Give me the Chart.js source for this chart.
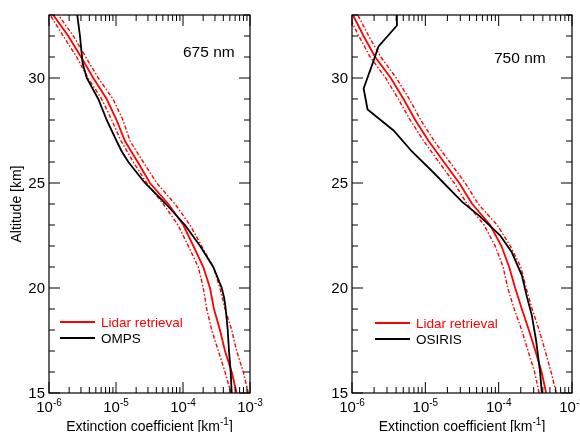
<!DOCTYPE html>
<html>
<head>
<meta charset="utf-8">
<script src="https://cdn.jsdelivr.net/npm/chart.js@4/dist/chart.umd.min.js"></script>
<style>
  body { margin: 0; background: #fff; }
  .wrap { display: flex; width: 580px; height: 432px; }
  canvas { display: block; }
</style>
</head>
<body>
<div class="wrap">
  <canvas id="left" width="290" height="432"></canvas>
  <canvas id="right" width="290" height="432"></canvas>
</div>
<script>
// altitude grid of the lidar profiles [km]
const altitudes = [15, 16, 17, 18, 19, 20, 21, 22, 23, 24, 25, 26, 27, 28, 29, 30, 31, 32, 33];

// 675 nm, extinction [km^-1]
const lidar675 = [6.32e-4, 5.33e-4, 4.24e-4, 3.56e-4, 2.90e-4, 2.53e-4, 2.01e-4, 1.43e-4, 1.01e-4, 6.04e-5,
  3.21e-5, 2.11e-5, 1.36e-5, 1.02e-5, 7.26e-6, 4.58e-6, 3.01e-6, 1.94e-6, 1.16e-6];
const lidar675Low = [5.20e-4, 4.24e-4, 3.37e-4, 2.68e-4, 2.26e-4, 2.01e-4, 1.69e-4, 1.20e-4, 8.41e-5, 5.08e-5,
  2.87e-5, 1.81e-5, 1.19e-5, 8.63e-6, 6.12e-6, 3.82e-6, 2.59e-6, 1.63e-6, 1.04e-6];
const lidar675High = [9.44e-4, 7.94e-4, 6.32e-4, 5.33e-4, 4.24e-4, 3.56e-4, 2.83e-4, 1.90e-4, 1.27e-4, 7.60e-5,
  4.05e-5, 2.55e-5, 1.62e-5, 1.27e-5, 9.02e-6, 5.44e-6, 3.53e-6, 2.31e-6, 1.38e-6];
const ompsAltitudes = [15, 16, 17, 18, 19, 19.5, 20, 21, 22, 23, 24, 25, 26, 26.5, 27, 28, 29, 30, 30.7, 32, 33];
const omps675 = [5.33e-4, 5.15e-4, 4.86e-4, 4.65e-4, 4.34e-4, 4.13e-4, 3.79e-4, 2.83e-4, 1.80e-4, 1.07e-4, 5.57e-5,
  2.71e-5, 1.53e-5, 1.22e-5, 1.02e-5, 7.26e-6, 5.44e-6, 3.66e-6, 3.18e-6, 2.90e-6, 2.64e-6];

// 750 nm
const lidar750 = [4.44e-4, 3.85e-4, 3.17e-4, 2.58e-4, 2.07e-4, 1.68e-4, 1.39e-4, 1.09e-4, 7.65e-5, 4.36e-5,
  2.90e-5, 1.79e-5, 1.11e-5, 7.28e-6, 5.04e-6, 3.38e-6, 2.07e-6, 1.44e-6, 1.03e-6];
const lidar750Low = [3.56e-4, 3.09e-4, 2.52e-4, 2.06e-4, 1.63e-4, 1.33e-4, 1.15e-4, 8.95e-5, 6.34e-5, 3.72e-5,
  2.48e-5, 1.53e-5, 9.50e-6, 6.22e-6, 4.28e-6, 2.88e-6, 1.77e-6, 1.24e-6, 8.9e-7];
const lidar750High = [6.07e-4, 5.19e-4, 4.31e-4, 3.56e-4, 2.86e-4, 2.37e-4, 2.00e-4, 1.44e-4, 9.55e-5, 5.26e-5,
  3.50e-5, 2.15e-5, 1.32e-5, 8.65e-6, 6.04e-6, 4.02e-6, 2.47e-6, 1.69e-6, 1.20e-6];
const osirisAltitudes = [15, 16, 17.5, 18.7, 19.6, 20.6, 21.7, 22.5, 23.4, 24.1, 25.5, 26.5, 27.5, 28.5, 29.5,
  30.6, 31.5, 32.5, 33];
const osiris750 = [3.88e-4, 3.67e-4, 3.24e-4, 2.83e-4, 2.42e-4, 2.07e-4, 1.51e-4, 1.05e-4, 5.60e-5, 3.18e-5,
  1.29e-5, 6.56e-6, 3.69e-6, 1.63e-6, 1.44e-6, 1.87e-6, 2.30e-6, 4.10e-6, 4.10e-6];

// axis ticks
const yMajorTicks = [15, 20, 25, 30];
const xDecades = [-6, -5, -4, -3];

const FONT = '"Liberation Sans", Arial, Helvetica, sans-serif';
const RED = "#ff0000";

function pairs(ys, xs) {
  return xs.map((v, i) => ({ x: v, y: ys[i] }));
}

// text with a raised exponent in the middle
function supText(ctx, base, sup, tail, x, y, size, supSize, align) {
  ctx.font = size + "px " + FONT;
  const w1 = ctx.measureText(base).width;
  const w3 = ctx.measureText(tail).width;
  ctx.font = supSize + "px " + FONT;
  const w2 = ctx.measureText(sup).width;
  const x0 = align === "center" ? x - (w1 + w2 + w3) / 2 : x;
  ctx.textAlign = "left";
  ctx.textBaseline = "alphabetic";
  ctx.font = size + "px " + FONT;
  ctx.fillText(base, x0, y);
  ctx.font = supSize + "px " + FONT;
  ctx.fillText(sup, x0 + w1, y - size * 0.42);
  ctx.font = size + "px " + FONT;
  ctx.fillText(tail, x0 + w1 + w2, y);
}

function line(ctx, x1, y1, x2, y2) {
  ctx.beginPath();
  ctx.moveTo(x1, y1);
  ctx.lineTo(x2, y2);
  ctx.stroke();
}

const framePlugin = {
  id: "frame",
  afterDraw(chart, args, opts) {
    const { ctx, chartArea: a } = chart;
    const xs = chart.scales.x;
    const ys = chart.scales.y;
    ctx.save();
    ctx.strokeStyle = "#000";
    ctx.fillStyle = "#000";
    ctx.lineWidth = 1.2;
    ctx.strokeRect(a.left, a.top, a.right - a.left, a.bottom - a.top);

    // inward ticks, y every km
    ctx.lineWidth = 1;
    for (let v = 15; v <= 33; v++) {
      const py = ys.getPixelForValue(v);
      const len = v % 5 === 0 ? 11 : 6;
      line(ctx, a.left, py, a.left + len, py);
      line(ctx, a.right, py, a.right - len, py);
    }
    // inward ticks, x log
    xDecades.forEach(d => {
      for (let m = 1; m <= 9; m++) {
        if (d === -3 && m > 1) break;
        const px = xs.getPixelForValue(m * Math.pow(10, d));
        const len = m === 1 ? 11 : 6;
        line(ctx, px, a.bottom, px, a.bottom - len);
        line(ctx, px, a.top, px, a.top + len);
      }
    });

    // tick labels
    ctx.font = "15px " + FONT;
    ctx.textAlign = "right";
    ctx.textBaseline = "middle";
    yMajorTicks.forEach(v => {
      ctx.fillText(String(v), a.left - 4, ys.getPixelForValue(v) + 1);
    });
    xDecades.forEach(d => {
      supText(ctx, "10", String(d), "", xs.getPixelForValue(Math.pow(10, d)), a.bottom + 19, 15, 10, "center");
    });

    // axis titles
    supText(ctx, "Extinction coefficient [km", "-1", "]", (a.left + a.right) / 2, 431, 14, 10, "center");
    if (opts.yTitle) {
      ctx.save();
      ctx.translate(17, (a.top + a.bottom) / 2);
      ctx.rotate(-Math.PI / 2);
      ctx.font = "14px " + FONT;
      ctx.textAlign = "center";
      ctx.textBaseline = "middle";
      ctx.fillText(opts.yTitle, 0, 0);
      ctx.restore();
    }

    // wavelength label
    ctx.font = "15.5px " + FONT;
    ctx.textAlign = "left";
    ctx.textBaseline = "middle";
    ctx.fillText(opts.label, opts.labelX, opts.labelY);

    // legend
    ctx.font = "13.5px " + FONT;
    ctx.lineWidth = 2;
    opts.legend.forEach((item, i) => {
      const ly = opts.legendY + i * 16;
      ctx.strokeStyle = item.color;
      ctx.fillStyle = item.color;
      line(ctx, opts.legendX, ly, opts.legendX + 35, ly);
      ctx.fillText(item.text, opts.legendX + 41, ly + 1);
    });
    ctx.restore();
  }
};

function makePanel(id, padding, datasets, frame) {
  return new Chart(document.getElementById(id), {
    type: "scatter",
    data: { datasets: datasets },
    options: {
      responsive: false,
      animation: false,
      events: [],
      layout: { padding: padding },
      plugins: {
        legend: { display: false },
        tooltip: { enabled: false },
        frame: frame
      },
      scales: {
        x: { type: "logarithmic", min: 1e-6, max: 1e-3, display: false },
        y: { type: "linear", min: 15, max: 33, display: false }
      }
    },
    plugins: [framePlugin]
  });
}

function profileSets(satAlt, sat, mid, low, high) {
  const base = { showLine: true, pointRadius: 0, tension: 0, clip: 0 };
  const dashDot = [4, 2, 1.5, 2];
  return [
    Object.assign({ data: pairs(satAlt, sat), borderColor: "#000", borderWidth: 1.8 }, base),
    Object.assign({ data: pairs(altitudes, mid), borderColor: RED, borderWidth: 1.8 }, base),
    Object.assign({ data: pairs(altitudes, low), borderColor: RED, borderWidth: 1.4, borderDash: dashDot }, base),
    Object.assign({ data: pairs(altitudes, high), borderColor: RED, borderWidth: 1.4, borderDash: dashDot }, base)
  ];
}

makePanel("left", { left: 49, right: 40, top: 15, bottom: 39 },
  profileSets(ompsAltitudes, omps675, lidar675, lidar675Low, lidar675High),
  {
    yTitle: "Altitude [km]",
    label: "675 nm", labelX: 183, labelY: 53,
    legendX: 60, legendY: 322,
    legend: [{ text: "Lidar retrieval", color: RED }, { text: "OMPS", color: "#000" }]
  });

makePanel("right", { left: 62, right: 8, top: 15, bottom: 39 },
  profileSets(osirisAltitudes, osiris750, lidar750, lidar750Low, lidar750High),
  {
    label: "750 nm", labelX: 204, labelY: 59,
    legendX: 85, legendY: 323,
    legend: [{ text: "Lidar retrieval", color: RED }, { text: "OSIRIS", color: "#000" }]
  });
</script>
</body>
</html>
